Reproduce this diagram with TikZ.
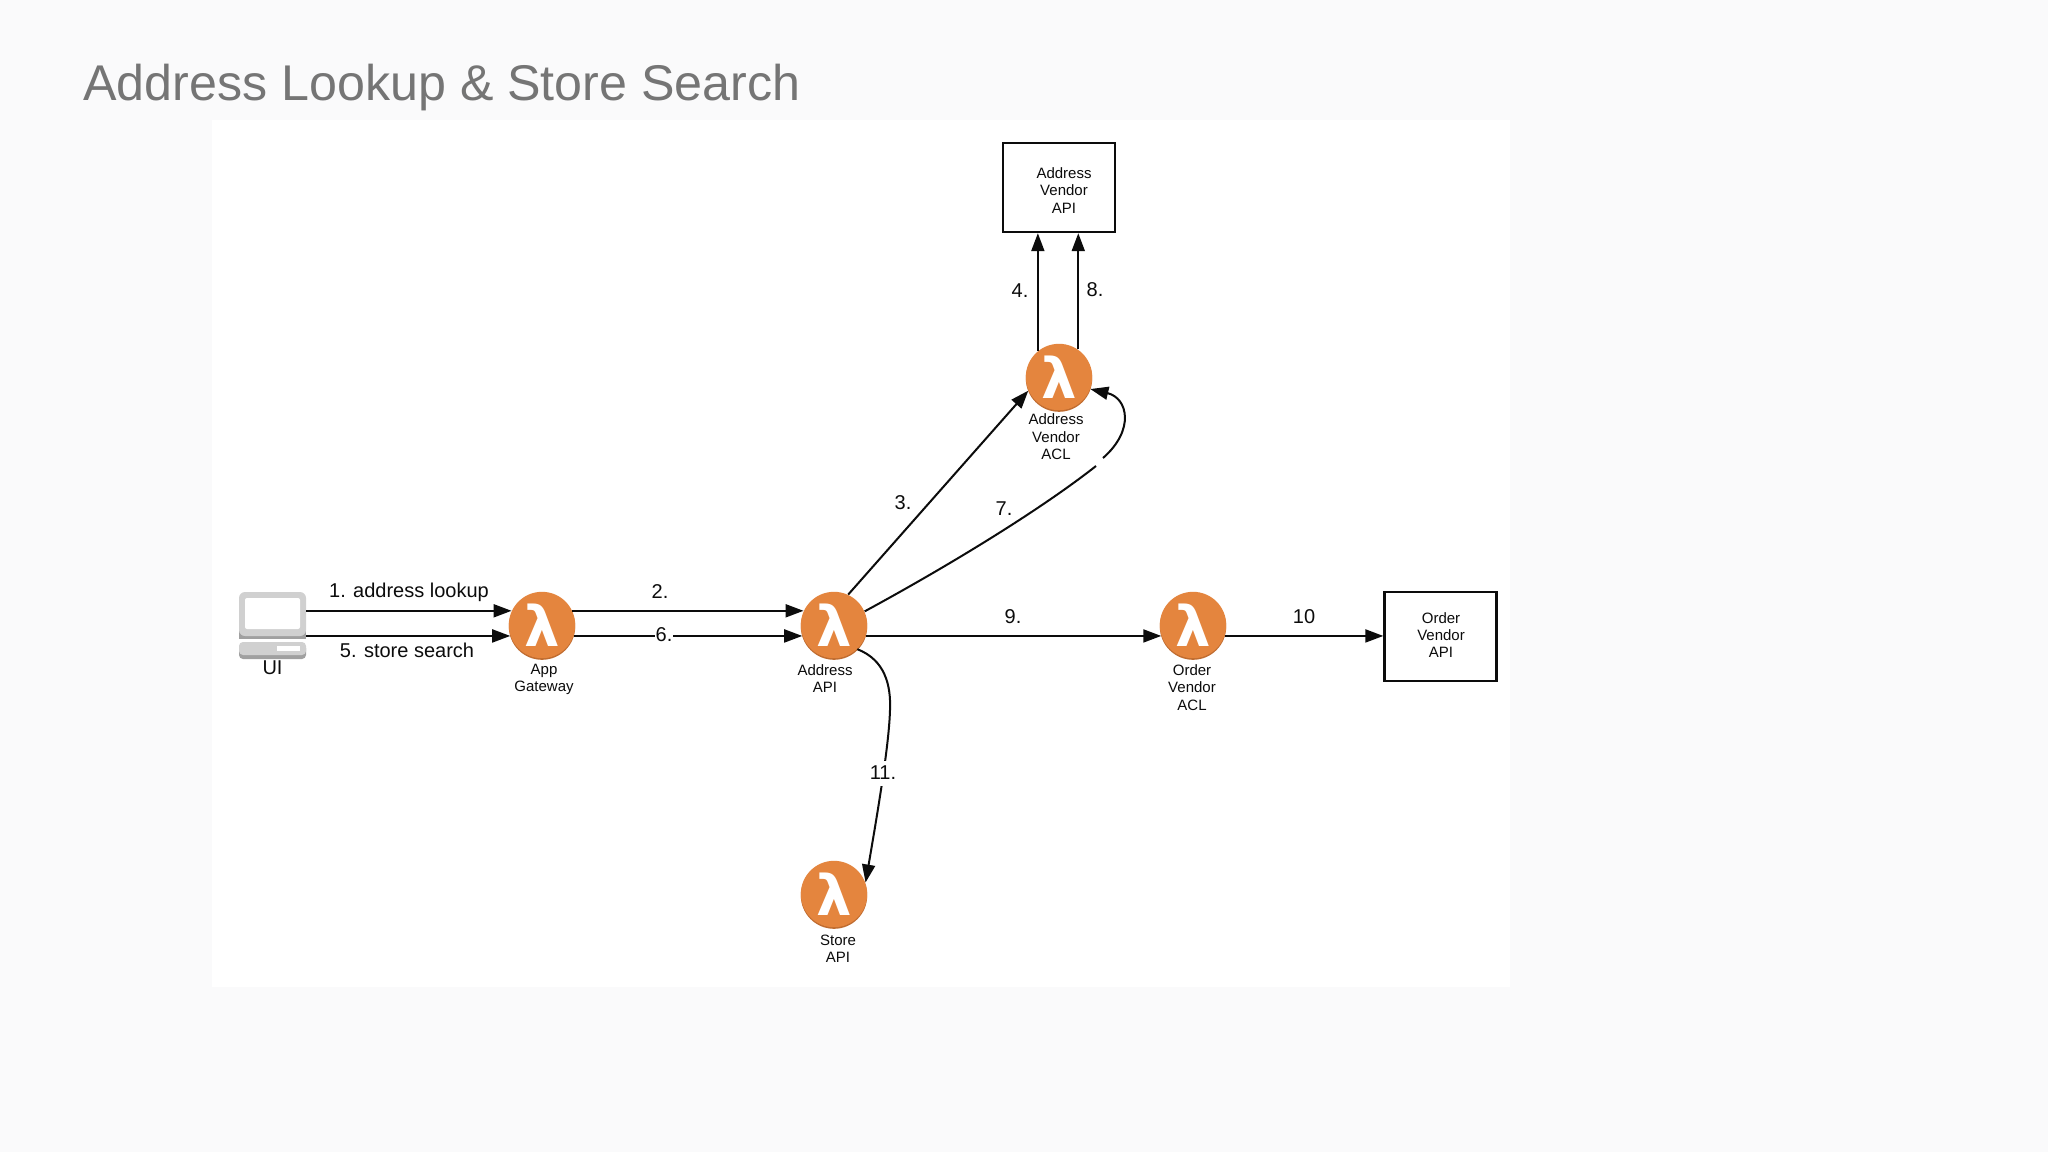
\documentclass[tikz,border=0pt]{standalone}
\usepackage{fontspec}
\setmainfont{Liberation Sans}
\newfontfamily\lambdafont{DejaVu Sans}
\usepackage{xcolor}
\usetikzlibrary{positioning,arrows.meta,shadows}
\definecolor{pagecolor}{RGB}{250, 250, 251}
\definecolor{titlecolor}{RGB}{117, 117, 117}
\definecolor{lambdacolor}{RGB}{228, 133, 62}
\definecolor{lambdaedge}{RGB}{192, 108, 48}
\definecolor{laptopcolor}{RGB}{208, 208, 208}
\definecolor{laptopedge}{RGB}{160, 160, 160}
\definecolor{inkcolor}{RGB}{12, 12, 12}
\tikzset{
    lambda node/.style={circle, fill=lambdacolor, text=white, minimum size=33.2pt, inner sep=0pt,
        font=\lambdafont\bfseries\fontsize{28}{28}\selectfont,
        general shadow={fill=lambdaedge, shadow yshift=-0.8pt}},
    vendor box/.style={rectangle, draw=inkcolor, line width=1.2pt, fill=white, minimum width=56pt, minimum height=44.5pt},
    small label/.style={align=center, text=inkcolor, font=\fontsize{7.5}{8.7}\selectfont},
    step label/.style={text=inkcolor, inner sep=0.5pt, font=\fontsize{10}{12}\selectfont},
    flow/.style={-{Triangle[length=9pt,width=6.5pt]}, line width=1pt, draw=inkcolor},
    flow part/.style={line width=1pt, draw=inkcolor}
}
\begin{document}
\begin{tikzpicture}[x=0.5pt, y=-0.5pt]
    % Page and panel
    \fill[pagecolor] (0,0) rectangle (2048,1152);
    \useasboundingbox (0,0) rectangle (2048,1152);
    \fill[white] (212,120) rectangle (1510,987);
    \node[anchor=base west, inner sep=0pt, text=titlecolor, font=\fontsize{25.1}{30}\selectfont] (title) at (83,100) {Address Lookup \& Store Search};

    % UI laptop
    \node[minimum width=33.5pt, minimum height=33pt, inner sep=0pt] (ui) at (272.5,625) {};
    \fill[laptopedge] (239,600) rectangle (306,639);
    \fill[laptopcolor, rounded corners=3pt] (239,592) rectangle (306,636);
    \fill[white, rounded corners=1pt] (245,598) rectangle (300,629);
    \fill[laptopedge, rounded corners=2pt] (239,644) rectangle (306,659);
    \fill[laptopcolor, rounded corners=2pt] (239,642) rectangle (306,655);
    \fill[white] (277,646) rectangle (300,651);
    \node[step label] (uilabel) at (272.5,668) {UI};

    % Lambdas
    \node[lambda node] (gateway) at (542,625) {λ};
    \node[lambda node] (addressapi) at (834,625) {λ};
    \node[lambda node] (addressacl) at (1059,377) {λ};
    \node[lambda node] (orderacl) at (1193,625) {λ};
    \node[lambda node] (storeapi) at (834,894) {λ};

    % Vendor boxes
    \node[vendor box] (addressvendor) at (1059,187.5) {};
    \node[vendor box] (ordervendor) at (1440.5,636.5) {};

    % Labels
    \node[small label] (gatewaylabel) at (544,679.5) {App\\Gateway};
    \node[small label] (addressapilabel) at (825,678.5) {Address\\API};
    \node[small label] (addressacllabel) at (1056,437) {Address\\Vendor\\ACL};
    \node[small label] (orderacllabel) at (1192,687.5) {Order\\Vendor\\ACL};
    \node[small label] (storeapilabel) at (838,949) {Store\\API};
    \node[small label] (addressvendorlabel) at (1064,190.5) {Address\\Vendor\\API};
    \node[small label] (ordervendorlabel) at (1441,635) {Order\\Vendor\\API};

    % Connections
    \draw[flow] (ui.east |- gateway.155) -- (gateway.155);
    \draw[flow] (ui.east |- gateway.199.5) -- (gateway.199.5);
    \draw[flow] (gateway.25) -- (addressapi.155);
    \draw[flow] (gateway.-19.5) -- (addressapi.199.5);
    \draw[flow] (addressapi.-19.5) -- (orderacl.199.5);
    \draw[flow] (orderacl.-19.5) -- (ordervendor.west |- orderacl.-19.5);
    \draw[flow] (addressapi.65) -- (addressacl.204);
    \draw[flow] (addressacl.129) -- (addressacl.129 |- addressvendor.south);
    \draw[flow] (addressacl.55) -- (addressacl.55 |- addressvendor.south);

    % Curved ones
    \coordinate (gapa) at (1096,466);
    \coordinate (gapb) at (1103,458);
    \coordinate (bend) at (890,710);
    \draw[flow part] (addressapi.24) .. controls (950,565) and (1040,510) .. (gapa);
    \draw[flow] (gapb) .. controls (1135,430) and (1128,398) .. (addressacl.-21);
    \draw[flow] (addressapi.-46) .. controls (885,660) and (891,685) .. (bend) .. controls (889,745) and (878,810) .. (storeapi.20);

    % Step labels
    \node[step label] (stepone) at (409,592) {1. address lookup};
    \node[step label] (stepfive) at (407,650) {5. store search};
    \node[step label] (steptwo) at (660,592) {2.};
    \node[step label, fill=white] (stepsix) at (664,635) {6.};
    \node[step label] (stepnine) at (1013,617) {9.};
    \node[step label] (stepten) at (1304,617) {10};
    \node[step label] (stepthree) at (903,503) {3.};
    \node[step label] (stepseven) at (1004,509) {7.};
    \node[step label] (stepfour) at (1020,291) {4.};
    \node[step label] (stepeight) at (1095,290) {8.};
    \node[step label, fill=white, minimum height=12.5pt] (stepeleven) at (883,773) {11.};
\end{tikzpicture}
\end{document}
